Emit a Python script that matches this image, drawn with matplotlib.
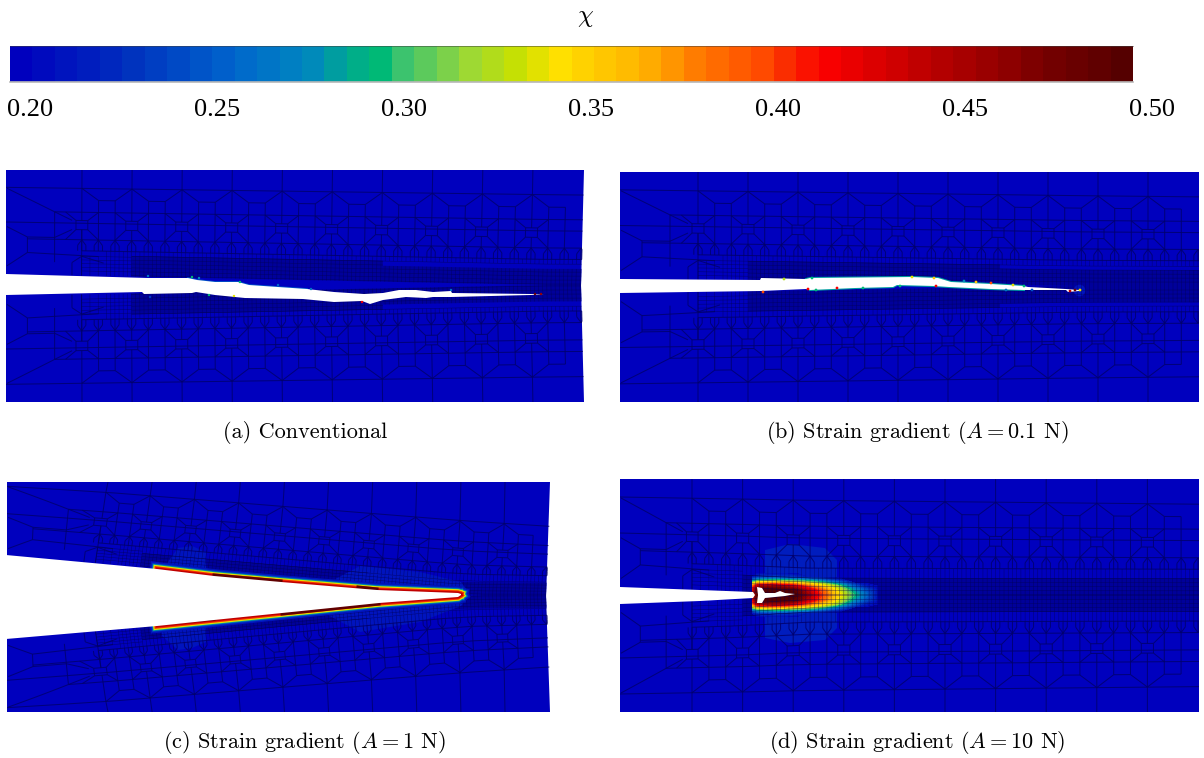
import numpy as np
import matplotlib
matplotlib.use("Agg")
import matplotlib.pyplot as plt
from matplotlib.cm import ScalarMappable
from matplotlib.collections import LineCollection
from matplotlib.colors import BoundaryNorm, LinearSegmentedColormap

W, H = 1204, 758

# colour scale of chi
bar_ticks = [0.20, 0.25, 0.30, 0.35, 0.40, 0.45, 0.50]
bar_labels = ["0.20", "0.25", "0.30", "0.35", "0.40", "0.45", "0.50"]
n_levels = 50
cmap_pos = [0, 0.10, 0.19, 0.26, 0.29, 0.335, 0.345, 0.40, 0.45, 0.485, 0.56, 0.61, 0.67, 0.69, 0.73, 0.78, 0.865, 0.935, 1]
cmap_rgb = [(0, 0, 190), (0, 50, 190), (0, 100, 205), (0, 135, 190), (0, 165, 150), (0, 190, 110),
            (60, 195, 110), (150, 215, 60), (200, 225, 0), (255, 225, 0), (255, 180, 0), (255, 125, 0),
            (255, 75, 0), (250, 45, 0), (250, 0, 0), (215, 0, 0), (160, 0, 0), (115, 0, 0), (85, 0, 0)]

# crack outlines, picture pixels
a_up_x = [6, 148, 188, 197, 215, 238, 249, 307, 334, 364, 383, 399, 416, 433, 451, 452, 531, 544]
a_up_y = [274, 278, 278, 280, 282, 282, 285, 289, 292, 294, 293, 290, 290, 292, 291, 293, 294, 294]
a_lo_x = [544, 531, 451, 433, 426, 406, 383, 370, 362, 334, 303, 245, 215, 196, 192, 144, 142, 6]
a_lo_y = [294, 295, 297, 297, 298, 297, 300, 304, 301, 302, 299, 298, 295, 292, 293, 294, 292, 295]

b_up_x = [620, 760, 761, 806, 810, 912, 938, 951, 991, 1024, 1028, 1066, 1079]
b_up_y = [279, 280, 278, 279, 278, 277, 278, 282, 284, 286, 287, 289, 290]
b_lo_x = [1079, 1068, 1066, 1024, 991, 949, 934, 897, 893, 855, 810, 806, 761, 620]
b_lo_y = [291, 292, 290, 290, 289, 287, 286, 285, 287, 288, 290, 289, 291, 293]

c_up_x = [6, 157, 214, 281, 377, 458, 461]
c_up_y = [555, 569, 576, 582, 590, 593, 594]
c_lo_x = [461, 458, 379, 282, 214, 157, 6]
c_lo_y = [595, 597, 603, 613, 620, 626, 639]

d_up_x = [620, 700, 753, 755, 753]
d_up_y = [587, 590, 592, 595, 598]
d_lo_x = [700, 620]
d_lo_y = [601, 604]
d_void_x = [757, 762, 765, 775, 780, 785, 795, 785, 775, 765, 762, 757, 758]
d_void_y = [587, 588, 593, 593, 591, 593, 594, 596, 597, 598, 603, 603, 595]

# coloured rims and small spots along the crack faces in (a) and (b)
a_rim_up_x = [188, 197, 215, 238, 249, 307]
a_rim_up_y = [278, 280, 282, 282, 285, 289]
a_rim_chi = 0.25
a_spot_x = [148, 150, 192, 199, 209, 234, 240, 278, 311, 362, 451, 535, 541]
a_spot_y = [276, 297, 277, 278, 295, 296, 282, 285, 289, 302, 290, 294, 294]
a_spot_chi = [0.27, 0.24, 0.30, 0.28, 0.30, 0.34, 0.30, 0.26, 0.27, 0.42, 0.27, 0.48, 0.46]

b_rim_up_x = [806, 810, 912, 938, 951, 991, 1024]
b_rim_up_y = [279, 278, 277, 278, 282, 284, 286]
b_rim_lo_x = [1024, 991, 949, 934, 897, 893, 855, 810]
b_rim_lo_y = [290, 289, 287, 286, 285, 287, 288, 290]
b_rim_chi = 0.29
b_spot_x = [763, 784, 808, 812, 816, 837, 863, 900, 912, 934, 936, 964, 976, 991, 1006, 1013, 1024, 1032, 1070, 1075, 1080]
b_spot_y = [292, 279, 289, 278, 290, 288, 288, 286, 277, 278, 286, 281, 282, 283, 290, 285, 286, 290, 291, 290, 290]
b_spot_chi = [0.40, 0.33, 0.42, 0.30, 0.30, 0.42, 0.30, 0.30, 0.34, 0.36, 0.42, 0.28, 0.36, 0.40, 0.27, 0.34, 0.30, 0.25, 0.44, 0.48, 0.34]

# process zone in (c): layers around the faces
band_chi = [0.215, 0.24, 0.29, 0.34, 0.41, 0.44]
band_lw = [10.0, 7.9, 6.6, 5.5, 3.8, 2.2]
c_strip_up_x = [[214, 281], [358, 377]]
c_strip_up_y = [[575, 581], [587, 589]]
c_strip_lo_x = [[178, 214], [282, 379]]
c_strip_lo_y = [[622, 619], [614, 604]]
c_halo_x = [[162, 178, 192, 206, 206, 162], [322, 360, 420, 461, 470, 461, 322],
            [162, 206, 206, 192, 178, 162], [322, 461, 470, 461, 420, 360, 322]]
c_halo_y = [[570, 548, 546, 552, 578, 572], [586, 566, 572, 582, 594, 596, 586],
            [624, 618, 642, 648, 650, 636], [604, 596, 596, 606, 622, 632, 612]]
c_halo_chi = [0.216, 0.216, 0.216, 0.216]

# chi around the blunted tip in (d), rows are distance from the crack line
d_hot_x = [746, 752, 758, 775, 795, 808, 820, 835, 845, 855, 865, 878, 884]
d_hot_dy = [0, 5, 9, 12, 15, 18, 22, 48]
d_hot_half = [
    [0.20, 0.44, 0.50, 0.50, 0.50, 0.46, 0.41, 0.36, 0.335, 0.30, 0.27, 0.21, 0.20],
    [0.20, 0.42, 0.50, 0.50, 0.49, 0.44, 0.40, 0.35, 0.32, 0.28, 0.25, 0.21, 0.20],
    [0.20, 0.38, 0.45, 0.46, 0.43, 0.39, 0.36, 0.33, 0.29, 0.25, 0.22, 0.205, 0.20],
    [0.20, 0.33, 0.37, 0.38, 0.36, 0.34, 0.32, 0.28, 0.25, 0.22, 0.205, 0.20, 0.20],
    [0.20, 0.26, 0.29, 0.30, 0.29, 0.28, 0.26, 0.23, 0.21, 0.20, 0.20, 0.20, 0.20],
    [0.20, 0.21, 0.23, 0.24, 0.23, 0.22, 0.215, 0.205, 0.20, 0.20, 0.20, 0.20, 0.20],
    [0.20, 0.20, 0.205, 0.205, 0.205, 0.20, 0.20, 0.20, 0.20, 0.20, 0.20, 0.20, 0.20],
    [0.20, 0.20, 0.20, 0.20, 0.20, 0.20, 0.20, 0.20, 0.20, 0.20, 0.20, 0.20, 0.20],
]
d_halo_x = [765, 790, 825, 837, 837, 825, 790, 765, 765]
d_halo_y = [550, 544, 548, 560, 628, 640, 643, 638, 550]
d_halo_chi = 0.22

# panel frames: left, right at the edge, right at mid height, top, bottom
frames = {
    "a": (6, 584, 581, 170, 402),
    "b": (620, 1199, 1199, 172, 402),
    "c": (7, 550, 546, 482, 712),
    "d": (620, 1199, 1199, 479, 712),
}
# picture x of the first mesh column in each panel
first_col = {"a": 82, "b": 698, "c": 108, "d": 692}
# lean of the mesh columns at the left and right, pixels
col_lean = {"a": (0, 3), "b": (0, 0), "c": (14, 4), "d": (0, 0)}
# tilt of the mesh rows at the left and right, pixels
row_tilt = {"a": (0, 6), "b": (0, 6), "c": (-8, 26), "d": (0, 6)}
# how the mesh opens at the crack
mesh_up = {
    "a": ([7, 544, 584], [274, 285, 285]),
    "b": ([620, 1079, 1199], [279, 286, 286]),
    "c": ([7, 461, 550], [555, 595, 595]),
    "d": ([620, 753, 800, 1199], [587, 592, 595, 595]),
}
mesh_lo = {
    "a": ([7, 544, 584], [296, 285, 285]),
    "b": ([620, 1079, 1199], [293, 286, 286]),
    "c": ([7, 461, 550], [639, 595, 595]),
    "d": ([620, 753, 800, 1199], [604, 599, 595, 595]),
}
fine_top = {"a": 92, "b": 93, "c": 96, "d": 97}

captions = ["(a) Conventional", r"(b) Strain gradient ($A=0.1$ N)",
            r"(c) Strain gradient ($A=1$ N)", r"(d) Strain gradient ($A=10$ N)"]
caption_x = [305, 917, 304, 917]
caption_y = [432, 432, 742, 742]

# mesh layout in pixels of panel (b): X from the left edge, Y from the top edge, crack at Y=114
mesh_cols = [78, 128, 178, 228, 278, 328, 378, 428, 478, 528]
mesh_pitch = 50
mesh_w = 579
mesh_h = 114
mesh_left_lines = [(1, 20, 50, 45), (50, 45, 68, 54), (50, 45, 50, 100), (1, 62, 22, 73), (22, 73, 22, 90),
                   (22, 73, 50, 73), (50, 73, 68, 64), (22, 90, 95, 93), (1, 105, 22, 90), (78, 64, 78, 114),
                   (68, 100, 78, 93), (68, 100, 68, 114), (78, 93, 100, 100), (0, 57, 50, 57)]

cmap = LinearSegmentedColormap.from_list("chi", [(p, (r / 255, g / 255, b / 255)) for p, (r, g, b) in zip(cmap_pos, cmap_rgb)])
levels = np.linspace(0.20, 0.50, n_levels + 1)
norm = BoundaryNorm(levels, 256, clip=True)


def chi_color(value):
    return cmap(norm(value))


def base_mesh(fine_y):
    coarse = list(mesh_left_lines)
    fine = []
    coarse.append((0, 19, mesh_w, 19))
    coarse.append((50, 45, mesh_w, 45))
    coarse.append((50, 57, mesh_w, 57))
    coarse.append((22, 75, mesh_w, 75))
    for xc in mesh_cols:
        xm = xc + mesh_pitch / 2
        coarse.append((xc, 0, xc, 54))
        coarse.append((xc, 19, xc + 16.7, 32))
        if xc > mesh_cols[0]:
            coarse.append((xc, 19, xc - 16.7, 32))
        # square on the column
        coarse.append((xc - 6, 54, xc + 6, 54))
        coarse.append((xc - 6, 64, xc + 6, 64))
        coarse.append((xc - 6, 54, xc - 6, 64))
        coarse.append((xc + 6, 54, xc + 6, 64))
        coarse.append((xc + 6, 54, xc + 16.7, 45))
        coarse.append((xc - 6, 54, xc - 16.7, 45))
        coarse.append((xc + 6, 64, xc + 16.7, 75))
        coarse.append((xc - 6, 64, xc - 16.7, 75))
        coarse.append((xc, 64, xc, 75))
        # box between the columns
        coarse.append((xm - 8.3, 32, xm + 8.3, 32))
        coarse.append((xm - 8.3, 32, xm - 8.3, 75))
        coarse.append((xm + 8.3, 32, xm + 8.3, 75))
    # refinement towards the crack line
    for x in np.arange(78, mesh_w, mesh_pitch / 3):
        coarse.append((x, 75, x, 87))
        coarse.append((x, 75, x - 4.17, 81))
        coarse.append((x, 75, x + 4.17, 81))
        coarse.append((x - 4.17, 81, x - 4.17, 87))
        coarse.append((x + 4.17, 81, x + 4.17, 87))
    coarse.append((78, 87, mesh_w, 87))
    for x in np.arange(103, mesh_w, mesh_pitch / 12):
        fine.append((x, 87, x, fine_y if x >= 128 else 114))
    for x in np.arange(78, 103, mesh_pitch / 6):
        fine.append((x, 93, x, 114))
    for y in [93, 97, 101, 105, 109]:
        fine.append((78, y, 128, y))
    fine.append((128, fine_y, mesh_w, fine_y))
    # the densest cells are too small to resolve, so every second line and a dark band under them
    for x in np.arange(128, mesh_w, mesh_pitch / 12):
        y_start = fine_y if x < 380 else 97
        fine.append((x, y_start, x, mesh_h))
    for y in np.arange(fine_y, mesh_h, 4.2):
        x_end = mesh_w if y >= 97 else 380
        fine.append((128, y, x_end, y))
    return coarse, fine


def map_mesh(lines, key, sign):
    left, right_edge, right_mid, top, bottom = frames[key]
    up_x, up_y = mesh_up[key]
    lo_x, lo_y = mesh_lo[key]
    lean_l, lean_r = col_lean[key]
    tilt_l, tilt_r = row_tilt[key]
    paths = []
    for x0, y0, x1, y1 in lines:
        t = np.linspace(0, 1, 14)
        mx = x0 + (x1 - x0) * t
        my = y0 + (y1 - y0) * t
        f = mx / mesh_w
        v = (mesh_h - my) / mesh_h
        px = np.interp(mx, [0, mesh_cols[0], mesh_w], [left, first_col[key], right_edge])
        px = px - (lean_l + (lean_r - lean_l) * f) * (1 - v) * np.minimum(mx / mesh_cols[0], 1)
        weight = np.minimum(v / 0.83, (1 - v) / 0.17)
        shift = (tilt_l + (tilt_r - tilt_l) * f) * weight
        if sign > 0:
            face = np.interp(px, up_x, up_y)
            py = face + (top - face) * v + shift
        else:
            face = np.interp(px, lo_x, lo_y)
            py = face + (bottom - face) * v - shift
        paths.append(np.column_stack([px, py]))
    return paths


def make_axes(fig, key):
    left, right_edge, right_mid, top, bottom = frames[key]
    ax = fig.add_axes([left / W, 1 - bottom / H, (right_edge - left) / W, (bottom - top) / H])
    ax.set_xlim(left, right_edge)
    ax.set_ylim(bottom, top)
    ax.axis("off")
    # the body, with the bowed free edge
    ax.fill([left, right_edge, right_mid, right_edge, left], [top, top, (top + bottom) / 2, bottom, bottom],
            color=chi_color(0.20), lw=0, zorder=1)
    return ax


def draw_mesh(ax, key):
    coarse, fine = base_mesh(fine_top[key])
    fy = fine_top[key]
    band = [(128, fy, 380, fy), (380, fy, 380, 97), (380, 97, mesh_w, 97), (mesh_w, 97, mesh_w, mesh_h), (mesh_w, mesh_h, 128, mesh_h)]
    for sign in [1, -1]:
        outline = np.vstack(map_mesh(band, key, sign))
        ax.fill(outline[:, 0], outline[:, 1], color="#00009a", lw=0, zorder=2.2)
        lc = LineCollection(map_mesh(coarse, key, sign), colors="#00006a", linewidths=0.75, alpha=0.8, zorder=3)
        lc.set_snap(False)
        ax.add_collection(lc)
        lc = LineCollection(map_mesh(fine, key, sign), colors="#000050", linewidths=0.4, alpha=0.6, zorder=3)
        lc.set_snap(False)
        ax.add_collection(lc)


def draw_crack(ax, up_x, up_y, lo_x, lo_y):
    ax.fill(list(up_x) + list(lo_x), list(up_y) + list(lo_y), color="white", lw=0, zorder=5)


fig = plt.figure(figsize=(W / 100, H / 100), dpi=100)
plt.rcParams["mathtext.fontset"] = "cm"
plt.rcParams["axes.unicode_minus"] = False

# colour bar
cax = fig.add_axes([10 / W, 1 - 82 / H, 1123 / W, 36 / H])
cb = fig.colorbar(ScalarMappable(norm=norm, cmap=cmap), cax=cax, orientation="horizontal", spacing="proportional")
cb.set_ticks([])
cb.minorticks_off()
cb.outline.set_visible(False)
cax.axhline(0, color="#b8b8b8", lw=1.2, clip_on=False)
cax.axhline(1, color="#404040", lw=0.6, alpha=0.6, clip_on=False)

# the labels sit a little to the right of the bar
lax = fig.add_axes([30 / W, 1 - 82 / H, 1122 / W, 36 / H])
lax.set_xlim(0.20, 0.50)
lax.set_ylim(0, 1)
lax.patch.set_visible(False)
for side in lax.spines.values():
    side.set_visible(False)
lax.set_yticks([])
lax.set_xticks(bar_ticks)
lax.set_xticklabels(bar_labels, family="Liberation Serif", fontsize=19)
lax.tick_params(axis="x", length=0, pad=12)
fig.text(585 / W, 1 - 17 / H, r"$\chi$", fontsize=18, ha="center", va="center")

ax_a = make_axes(fig, "a")
draw_mesh(ax_a, "a")
ax_a.plot(a_rim_up_x, a_rim_up_y, color=chi_color(a_rim_chi), lw=1.2, zorder=4)
draw_crack(ax_a, a_up_x, a_up_y, a_lo_x, a_lo_y)
ax_a.scatter(a_spot_x, a_spot_y, c=a_spot_chi, cmap=cmap, norm=norm, s=3, lw=0, zorder=6)

ax_b = make_axes(fig, "b")
draw_mesh(ax_b, "b")
ax_b.scatter([1079], [290], c=[0.215], cmap=cmap, norm=norm, s=70, lw=0, zorder=2.4)
ax_b.plot(b_rim_up_x, b_rim_up_y, color=chi_color(b_rim_chi), lw=1.5, zorder=4)
ax_b.plot(b_rim_lo_x, b_rim_lo_y, color=chi_color(b_rim_chi), lw=1.5, zorder=4)
draw_crack(ax_b, b_up_x, b_up_y, b_lo_x, b_lo_y)
ax_b.scatter(b_spot_x, b_spot_y, c=b_spot_chi, cmap=cmap, norm=norm, s=4, lw=0, zorder=6)

ax_c = make_axes(fig, "c")
draw_mesh(ax_c, "c")
for hx, hy, hc in zip(c_halo_x, c_halo_y, c_halo_chi):
    ax_c.fill(hx, hy, color=chi_color(hc), lw=0, zorder=2.4)
for chi_value, lw in zip(band_chi, band_lw):
    # the rim only starts where the crack grew, not on the initial notch
    ax_c.plot(c_up_x[1:], c_up_y[1:], color=chi_color(chi_value), lw=lw, zorder=4)
    ax_c.plot(c_lo_x[:-1], c_lo_y[:-1], color=chi_color(chi_value), lw=lw, zorder=4)
for sx, sy in zip(c_strip_up_x + c_strip_lo_x, c_strip_up_y + c_strip_lo_y):
    ax_c.plot(sx, sy, color=chi_color(0.49), lw=2.2, zorder=4.5)
draw_crack(ax_c, c_up_x, c_up_y, c_lo_x, c_lo_y)

ax_d = make_axes(fig, "d")
draw_mesh(ax_d, "d")
ax_d.fill(d_halo_x, d_halo_y, color=chi_color(d_halo_chi), lw=0, zorder=2.4)
rows = np.array(d_hot_half)
dy = np.array(d_hot_dy)
hot_y = np.concatenate([595 - dy[::-1], 595 + dy[1:]])
hot_z = np.vstack([rows[::-1], rows[1:]])
hot = np.ma.masked_less(hot_z, 0.2005)
ax_d.contourf(d_hot_x, hot_y, hot, levels=levels, cmap=cmap, norm=norm, extend="max", zorder=2.5)
draw_crack(ax_d, d_up_x, d_up_y, d_lo_x, d_lo_y)
ax_d.fill(d_void_x, d_void_y, color="white", lw=0, zorder=5)

for text, cx, cy in zip(captions, caption_x, caption_y):
    fig.text(cx / W, 1 - cy / H, text, family="cmr10", fontsize=16, ha="center", va="center")

fig.savefig("out.png", dpi=100)
plt.close(fig)
